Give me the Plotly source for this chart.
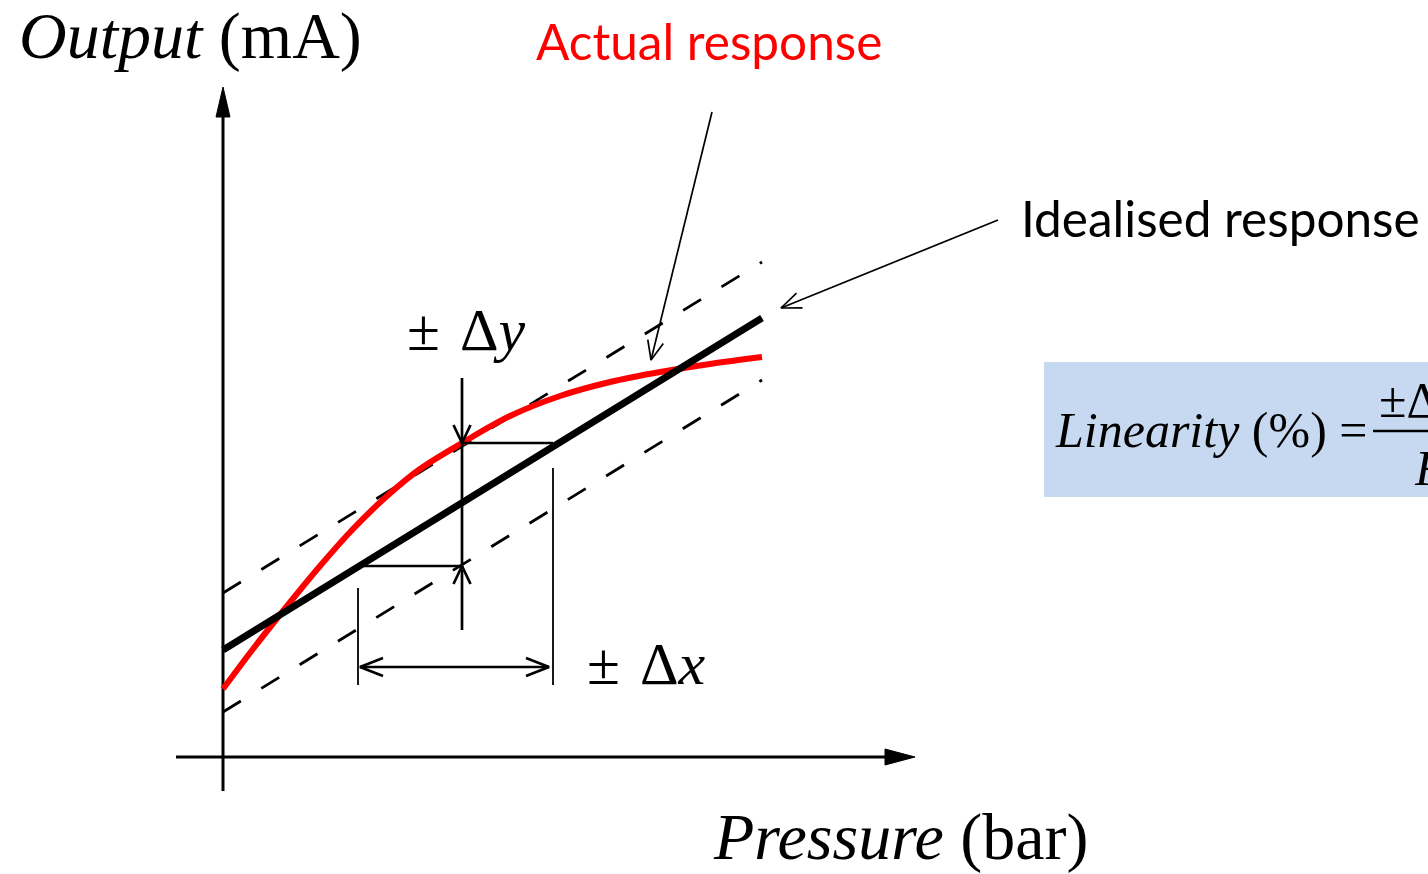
import math
import plotly.graph_objects as go

# ---------------- data (diagram units: origin at the axes crossing) ----------------
ideal_x = [0, 539]
ideal_y = [107, 439]
upper_band_y = [164, 495]
lower_band_y = [45, 377]

actual_x = [0, 30, 60, 97, 130, 164, 197, 239, 287, 337, 387, 437, 487, 539]
actual_y = [68, 108, 146, 191, 228, 261, 288, 314, 341, 361, 375, 385, 393, 400]

dy_x = 239          # x where the deviation is measured
dy_low = 191        # ideal output level (lower limit of deviation)
dy_high = 314       # actual output level (upper limit)
dx_left = 135       # pressure where ideal gives dy_low
dx_right = 330      # pressure where ideal gives dy_high
dx_arrow_y = 90

x_axis_range = [-47, 692]
y_axis_range = [-34, 670]

actual_label = "Actual response"
ideal_label = "Idealised response"
x_label = ("Pressure", "(bar)")
y_label = ("Output", "(mA)")
formula_lhs = "Linearity (%) ="

# ---------------- figure ----------------
fig = go.Figure()
BLACK = "#000000"
RED = "#FF0000"
SERIF = "Liberation Serif"


def line(xs, ys, color=BLACK, width=2, dash=None, fill=None, smooth=False):
    fig.add_trace(go.Scatter(
        x=xs, y=ys, mode="lines",
        line=dict(color=color, width=width, dash=dash,
                  shape="spline" if smooth else "linear", smoothing=1.0),
        fill=fill, fillcolor=color if fill else None,
        hoverinfo="skip", showlegend=False))


def head(tip, frm, length, half, filled=False, width=2):
    dx, dy = tip[0] - frm[0], tip[1] - frm[1]
    n = math.hypot(dx, dy)
    ux, uy = dx / n, dy / n
    bx, by = tip[0] - ux * length, tip[1] - uy * length
    px, py = -uy * half, ux * half
    xs = [bx + px, tip[0], bx - px]
    ys = [by + py, tip[1], by - py]
    if filled:
        line(xs + [xs[0]], ys + [ys[0]], width=1, fill="toself")
    else:
        line(xs, ys, width=width)


# axes of the sketch
line([0, 0], [-34, 655], width=3)
head((0, y_axis_range[1]), (0, 0), 30, 7, filled=True)
line([-47, 670], [0, 0], width=3)
head((x_axis_range[1], 0), (0, 0), 30, 8, filled=True)

# bands and curves
line(ideal_x, upper_band_y, width=2.8, dash="21px,24px")
line(ideal_x, lower_band_y, width=2.8, dash="21px,24px")
line(actual_x, actual_y, color=RED, width=6, smooth=True)
line(ideal_x, ideal_y, width=7)

# deviation construction
CW = 2.7
line([dy_x, dx_right], [dy_high, dy_high], width=CW)
line([dx_left, dy_x], [dy_low, dy_low], width=CW)
line([dy_x, dy_x], [127, 379], width=CW)
head((dy_x, dy_high), (dy_x, 379), 18, 8.5, width=CW)
head((dy_x, dy_low), (dy_x, 127), 18, 8.5, width=CW)
line([dx_left, dx_left], [72, 169], width=1.8)
line([dx_right, dx_right], [72, 289], width=1.8)
line([dx_left + 2, dx_right - 4], [dx_arrow_y, dx_arrow_y], width=CW)
head((dx_left + 2, dx_arrow_y), (dx_right, dx_arrow_y), 23, 9, width=CW)
head((dx_right - 4, dx_arrow_y), (dx_left, dx_arrow_y), 23, 9, width=CW)

# callout arrows
line([489, 428], [645, 397], width=1.7)
head((428, 397), (489, 645), 19, 8, width=1.7)
line([775, 558], [537, 449], width=1.7)
head((558, 449), (775, 537), 20, 8, width=1.7)

# formula box
fig.add_shape(type="rect", xref="x", yref="y", x0=821, x1=1230, y0=260, y1=395,
              fillcolor="#C6D9F0", line=dict(width=0), layer="below")
line([1150, 1230], [326, 326], width=2.5)


def text(x, y, s, size, color=BLACK, family=SERIF, xanchor="left"):
    fig.add_annotation(x=x, y=y, xref="x", yref="y", text=s, showarrow=False,
                       xanchor=xanchor, yanchor="middle",
                       font=dict(family=family, size=size, color=color))


text(486, 716, actual_label, 49.5, color=RED, family="Lato", xanchor="center")
text(796, 539, ideal_label, 49.5, family="Lato")
text(-206, 721, f"<i>{y_label[0]}</i> {y_label[1]}", 66)
text(488, -80, f"<i>{x_label[0]}</i> {x_label[1]}", 66)
text(182, 427, "±\u2004Δ<i>y</i>", 60)
text(362, 93, "±\u2004Δ<i>x</i>", 60)
text(830, 327, "<i>Linearity</i> (%) =", 50)
text(1154, 357, "±Δ<i>y</i>", 50)
text(1189, 289, "<i>FSO</i>", 50)

fig.update_layout(
    width=1428, height=874,
    margin=dict(l=0, r=0, t=0, b=0),
    paper_bgcolor="white", plot_bgcolor="white",
    xaxis=dict(range=[-223, 1205], visible=False, fixedrange=True),
    yaxis=dict(range=[-117, 757], visible=False, fixedrange=True),
    showlegend=False,
)
fig.write_html("out.html", post_script="document.body.style.margin='0';",
               config={"displayModeBar": False})
